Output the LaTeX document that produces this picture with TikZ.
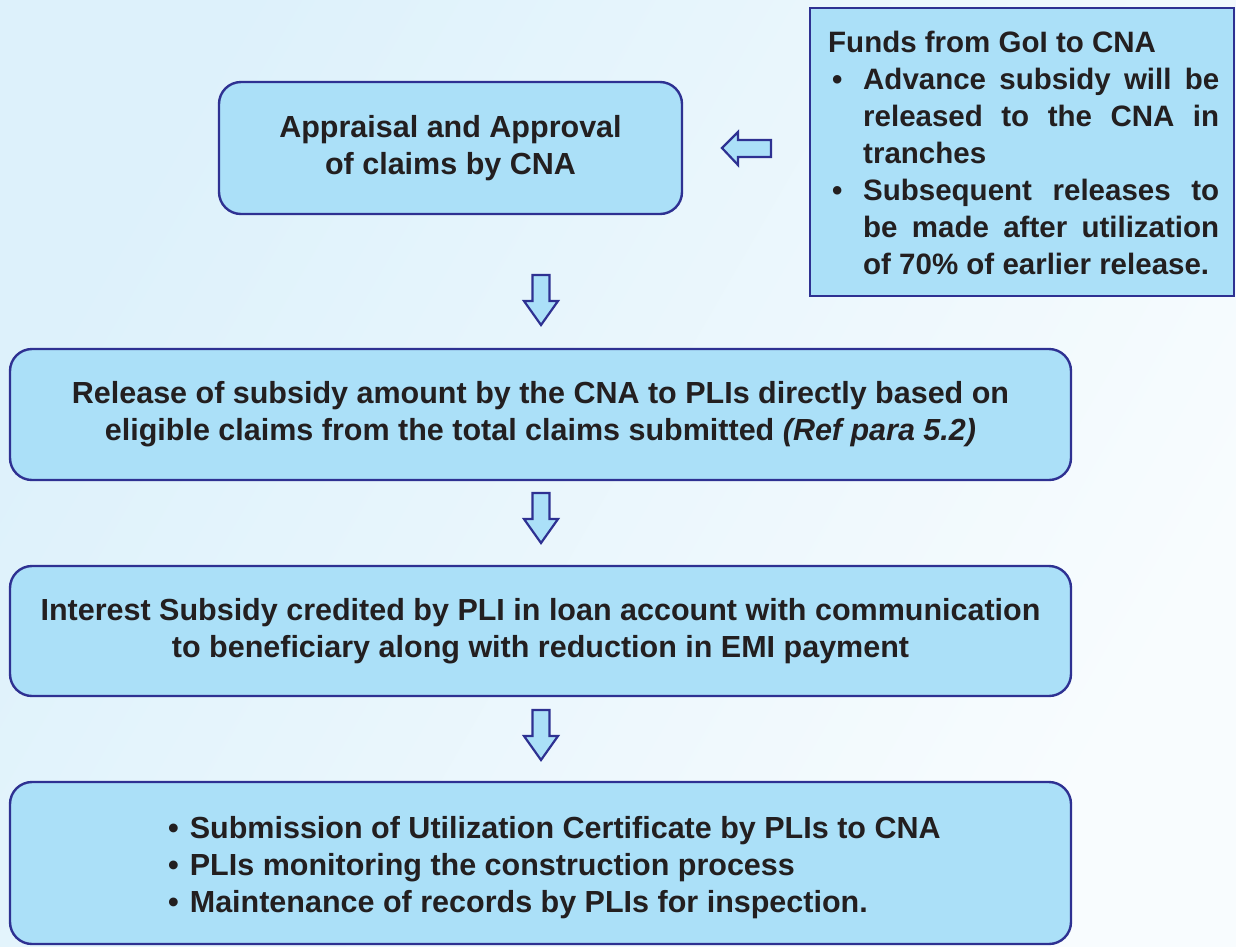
\documentclass[tikz,border=0pt]{standalone}
\usepackage{fontspec}
\setmainfont{Liberation Sans}
\definecolor{boxfill}{HTML}{ABE0F8}
\definecolor{boxline}{HTML}{2E3192}
\definecolor{txt}{HTML}{231F20}
\definecolor{bgA}{HTML}{DDF1FB}
\definecolor{bgB}{HTML}{F8FCFE}
\tikzset{
  roundbox/.style={draw=boxline, fill=boxfill, line width=2.4pt, rounded corners=22pt, text=txt, align=center, inner sep=0pt},
  squarebox/.style={draw=boxline, fill=boxfill, line width=2.4pt, text=txt, inner sep=0pt},
  blockarrow/.style={draw=boxline, fill=boxfill, line width=2.2pt, line join=miter},
  bigfont/.style={font=\bfseries\fontsize{30.5}{37}\selectfont}
}
\begin{document}
\begin{tikzpicture}[x=1pt,y=-1pt]
\useasboundingbox (0,0) rectangle (1236,946);
\shade[left color=bgA, right color=bgB, shading angle=60] (0,0) rectangle (1236,946);

\node[roundbox, bigfont, minimum width=463pt, minimum height=132pt] (appr) at (450.5,148) {Appraisal and Approval\\of claims by CNA};

\node[squarebox, minimum width=424pt, minimum height=288pt] (funds) at (1022,152) {};
\node[anchor=north west, inner sep=0pt, text=txt] (fundstxt) at (828,30.5) {\parbox[t]{391pt}{\fontsize{29.5}{37}\selectfont\bfseries
\noindent Funds from GoI to CNA\par
\hangindent=35pt\hangafter=1\noindent\makebox[35pt][l]{\hspace{4pt}\textbullet}Advance subsidy will be\linebreak released to the CNA in\linebreak tranches\par
\hangindent=35pt\hangafter=1\noindent\makebox[35pt][l]{\hspace{4pt}\textbullet}Subsequent releases to\linebreak be made after utilization\linebreak of 70\% of earlier release.\par}};

\node[roundbox, bigfont, minimum width=1061pt, minimum height=131pt] (rel) at (540.5,414.5) {Release of subsidy amount by the CNA to PLIs directly based on\\eligible claims from the total claims submitted \textit{(Ref para 5.2)}};

\node[roundbox, bigfont, minimum width=1061pt, minimum height=130pt] (intr) at (540.5,631) {Interest Subsidy credited by PLI in loan account with communication\\to beneficiary along with reduction in EMI payment};

\node[roundbox, minimum width=1061pt, minimum height=162pt] (subm) at (540.5,863) {};
\node[anchor=west, inner sep=0pt, text=txt, bigfont, align=left] (submtxt) at (168,868) {\textbullet\hspace{11pt}Submission of Utilization Certificate by PLIs to CNA\\\textbullet\hspace{11pt}PLIs monitoring the construction process\\\textbullet\hspace{11pt}Maintenance of records by PLIs for inspection.};

% left arrow from funds box to appraisal box
\draw[blockarrow] (771,140) -- (738,140) -- (738,132) -- (722,148) -- (738,165) -- (738,157) -- (771,157) -- cycle;

% down arrows
\foreach \y in {275,493,710}{
  \draw[blockarrow] (532.5,\y) -- (549.5,\y) -- (549.5,\y+26) -- (558,\y+26) -- (541,\y+50) -- (524,\y+26) -- (532.5,\y+26) -- cycle;
}
\end{tikzpicture}
\end{document}
